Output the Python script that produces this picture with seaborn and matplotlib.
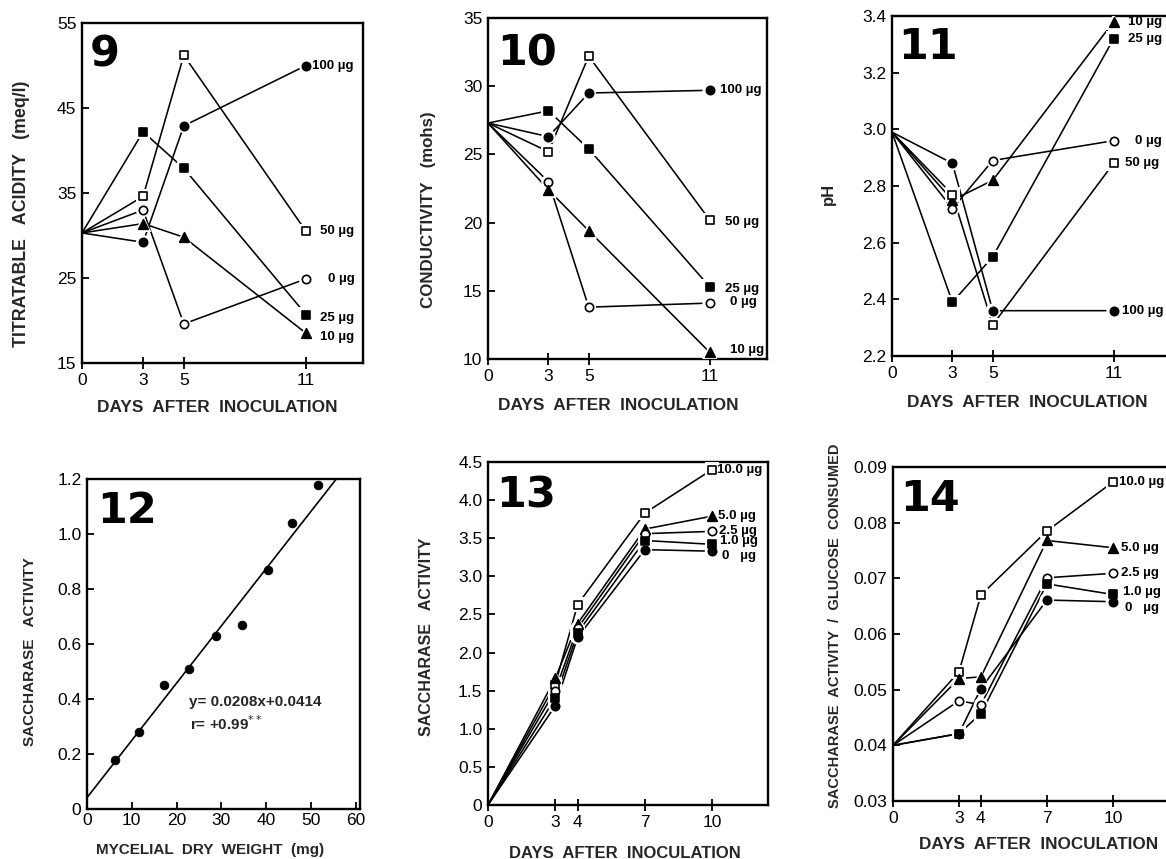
import matplotlib
matplotlib.use("Agg")
import matplotlib.pyplot as plt
import seaborn as sns
import pandas as pd

sns.set_theme(style="white")
plt.rcParams["font.family"] = ["Liberation Sans", "DejaVu Sans"]

# ---------------- data ----------------
days_a = [0, 3, 5, 11]
acid_100 = [30.3, 29.2, 42.9, 50.0]
acid_50 = [30.3, 34.6, 51.2, 30.5]
acid_0 = [30.3, 33.0, 19.6, 24.9]
acid_25 = [30.3, 42.2, 37.9, 20.7]
acid_10 = [30.3, 31.4, 29.8, 18.5]

cond_100 = [27.3, 26.3, 29.5, 29.7]
cond_50 = [27.3, 25.2, 32.2, 20.2]
cond_25 = [27.3, 28.2, 25.4, 15.3]
cond_0 = [27.3, 23.0, 13.8, 14.1]
cond_10 = [27.3, 22.4, 19.4, 10.5]

ph_10 = [2.99, 2.75, 2.82, 3.38]
ph_25 = [2.99, 2.39, 2.55, 3.32]
ph_0 = [2.99, 2.72, 2.89, 2.96]
ph_50 = [2.99, 2.77, 2.31, 2.88]
ph_100 = [2.99, 2.88, 2.36, 2.36]

dry_weight = [6.2, 11.6, 17.2, 22.9, 28.8, 34.7, 40.4, 45.9, 51.7]
activity_w = [0.18, 0.28, 0.45, 0.51, 0.63, 0.67, 0.87, 1.04, 1.18]
slope, intercept = 0.0208, 0.0414

days_b = [0, 3, 4, 7, 10]
sa_10 = [0.0, 1.58, 2.63, 3.83, 4.40]
sa_5 = [0.0, 1.66, 2.38, 3.62, 3.79]
sa_25 = [0.0, 1.50, 2.32, 3.56, 3.59]
sa_1 = [0.0, 1.40, 2.26, 3.47, 3.42]
sa_0 = [0.0, 1.30, 2.20, 3.35, 3.33]

sg_10 = [0.040, 0.0532, 0.0670, 0.0785, 0.0873]
sg_5 = [0.040, 0.0520, 0.0523, 0.0768, 0.0755]
sg_25 = [0.040, 0.0480, 0.0473, 0.0701, 0.0709]
sg_1 = [0.040, 0.0421, 0.0457, 0.0690, 0.0671]
sg_0 = [0.040, 0.0421, 0.0502, 0.0661, 0.0658]

lab_a = ["100 µg", "50 µg", "0 µg", "25 µg", "10 µg"]
lab_b = ["10.0 µg", "5.0 µg", "2.5 µg", "1.0 µg", "0   µg"]

# marker styles: (marker, filled)
ST = {"fc": ("o", True), "oc": ("o", False), "os": ("s", False),
      "fs": ("s", True), "ft": ("^", True)}

W, H = 1166, 859
fig = plt.figure(figsize=(W / 100, H / 100), dpi=100)


def add_ax(l, r, t, b):
    return fig.add_axes([l / W, 1 - b / H, (r - l) / W, (b - t) / H])


def style_ax(ax, xlim, ylim, xt, xtl, yt, ytl):
    ax.set_xlim(*xlim)
    ax.set_ylim(*ylim)
    ax.set_xticks(xt)
    ax.set_xticklabels(xtl)
    ax.set_yticks(yt)
    ax.set_yticklabels(ytl)
    for s in ax.spines.values():
        s.set_color("black")
        s.set_linewidth(1.7)
    ax.tick_params(axis="x", direction="inout", length=9, width=1.3,
                   bottom=True, labelsize=12.5, pad=3, colors="black")
    ax.tick_params(axis="y", direction="in", length=5, width=1.3,
                   left=True, labelsize=12.5, pad=4, colors="black")
    ax.set_xlabel("")
    ax.set_ylabel("")


def series(ax, x, y, key, label=None, dx=6, dy=0, fs=9.5):
    m, filled = ST[key]
    sns.lineplot(x=x, y=y, ax=ax, color="black", lw=1.15, zorder=2,
                 estimator=None, sort=False)
    s = 48 if m == "^" else 36
    sns.scatterplot(x=x[1:], y=y[1:], ax=ax, marker=m, s=s * 3.0,
                    color="white", edgecolor="none", zorder=3)
    sns.scatterplot(x=x[1:], y=y[1:], ax=ax, marker=m, s=s,
                    color="black" if filled else "white",
                    edgecolor="black", linewidth=1.2, zorder=4)
    if label:
        ax.annotate(label, xy=(x[-1], y[-1]), xytext=(dx, dy),
                    textcoords="offset pixels", ha="left", va="center",
                    fontsize=fs, fontweight="bold", color="black")


def num(ax, t, dx, dy):
    ax.annotate(t, xy=(0, 1), xycoords="axes fraction", xytext=(dx, -dy),
                textcoords="offset pixels", ha="left", va="top",
                fontsize=31, fontweight="heavy", color="black",
                family=["DejaVu Sans"])


def labels(ax, xl, xp, yl, yp, xfs=12.4, yfs=11):
    ax.text(xp[0], xp[1], xl, transform=ax.transAxes, ha="center",
            va="center", fontsize=xfs, fontweight="bold")
    ax.text(yp[0], yp[1], yl, transform=ax.transAxes, ha="center",
            va="center", rotation=90, fontsize=yfs, fontweight="bold")


# ---------- Fig 9 ----------
ax9 = add_ax(82, 363, 23, 363)
series(ax9, days_a, acid_100, "fc", lab_a[0], 6, 0)
series(ax9, days_a, acid_50, "os", lab_a[1], 14, 0)
series(ax9, days_a, acid_0, "oc", lab_a[2], 22, 0)
series(ax9, days_a, acid_25, "fs", lab_a[3], 14, -3)
series(ax9, days_a, acid_10, "ft", lab_a[4], 14, -4)
style_ax(ax9, (0, 13.8), (15, 55), days_a, ["0", "3", "5", "11"],
         [15, 25, 35, 45, 55], ["15", "25", "35", "45", "55"])
num(ax9, "9", 8, 10)
labels(ax9, "DAYS  AFTER  INOCULATION", (0.48, -0.13),
       "TITRATABLE   ACIDITY   (meq/l)", (-0.215, 0.44), yfs=12.8)

# ---------- Fig 10 ----------
ax10 = add_ax(488, 767, 18, 359)
series(ax10, days_a, cond_100, "fc", lab_a[0], 10, 0)
series(ax10, days_a, cond_50, "os", lab_a[1], 15, -2)
series(ax10, days_a, cond_25, "fs", lab_a[3], 15, -2)
series(ax10, days_a, cond_0, "oc", lab_a[2], 20, 1)
series(ax10, days_a, cond_10, "ft", lab_a[4], 20, 2)
style_ax(ax10, (0, 13.85), (10, 35), days_a, ["0", "3", "5", "11"],
         [10, 15, 20, 25, 30, 35], ["10", "15", "20", "25", "30", "35"])
num(ax10, "10", 9, 14)
labels(ax10, "DAYS  AFTER  INOCULATION", (0.466, -0.135),
       "CONDUCTIVITY   (mohs)", (-0.215, 0.437), yfs=12.2)

# ---------- Fig 11 ----------
ax11 = add_ax(892, 1170, 16, 356)
series(ax11, days_a, ph_10, "ft", lab_a[4], 14, 0)
series(ax11, days_a, ph_25, "fs", lab_a[3], 14, 0)
series(ax11, days_a, ph_0, "oc", lab_a[2], 21, 0)
series(ax11, days_a, ph_50, "os", lab_a[1], 11, 0)
series(ax11, days_a, ph_100, "fc", lab_a[0], 8, 0)
style_ax(ax11, (0, 13.8), (2.2, 3.4), days_a, ["0", "3", "5", "11"],
         [2.2, 2.4, 2.6, 2.8, 3.0, 3.2, 3.4],
         ["2.2", "2.4", "2.6", "2.8", "3.0", "3.2", "3.4"])
num(ax11, "11", 6, 10)
labels(ax11, "DAYS  AFTER  INOCULATION", (0.486, -0.138),
       "pH", (-0.23, 0.476), yfs=12)

# ---------- Fig 12 ----------
ax12 = add_ax(87, 360, 479, 809)
line_x = [0, 60]
line_y = [intercept + slope * v for v in line_x]
sns.lineplot(x=line_x, y=line_y, ax=ax12, color="black", lw=1.2,
             estimator=None, zorder=2)
sns.scatterplot(x=dry_weight, y=activity_w, ax=ax12, marker="o", s=40,
                color="black", edgecolor="black", zorder=4)
style_ax(ax12, (0, 61), (0, 1.2), [0, 10, 20, 30, 40, 50, 60],
         ["0", "10", "20", "30", "40", "50", "60"],
         [0, 0.2, 0.4, 0.6, 0.8, 1.0, 1.2],
         ["0", "0.2", "0.4", "0.6", "0.8", "1.0", "1.2"])
ax12.tick_params(axis="x", direction="in", length=5)
num(ax12, "12", 10, 11)
ax12.text(22.8, 0.39, "y= 0.0208x+0.0414", fontsize=11, fontweight="bold",
          va="center", ha="left")
ax12.text(23.0, 0.31, r"r= +0.99$^{**}$", fontsize=11, fontweight="bold",
          va="center", ha="left")
labels(ax12, "MYCELIAL  DRY  WEIGHT  (mg)", (0.45, -0.124),
       "SACCHARASE   ACTIVITY", (-0.21, 0.476), xfs=11, yfs=11)

# ---------- Fig 13 ----------
ax13 = add_ax(488, 768, 462, 805)
series(ax13, days_b, sa_10, "os", lab_b[0], 5, 0)
series(ax13, days_b, sa_5, "ft", lab_b[1], 6, 0)
series(ax13, days_b, sa_25, "oc", lab_b[2], 7, 0)
series(ax13, days_b, sa_1, "fs", lab_b[3], 8, 3)
series(ax13, days_b, sa_0, "fc", lab_b[4], 10, -5)
style_ax(ax13, (0, 12.5), (0, 4.5), days_b, ["0", "3", "4", "7", "10"],
         [0, 0.5, 1, 1.5, 2, 2.5, 3, 3.5, 4, 4.5],
         ["0", "0.5", "1.0", "1.5", "2.0", "2.5", "3.0", "3.5", "4.0", "4.5"])
num(ax13, "13", 8, 12)
labels(ax13, "DAYS  AFTER  INOCULATION", (0.49, -0.14),
       "SACCHARASE   ACTIVITY", (-0.218, 0.49), xfs=12, yfs=11.5)

# ---------- Fig 14 ----------
ax14 = add_ax(893, 1170, 467, 801)
series(ax14, days_b, sg_10, "os", lab_b[0], 6, 0)
series(ax14, days_b, sg_5, "ft", lab_b[1], 8, 0)
series(ax14, days_b, sg_25, "oc", lab_b[2], 8, 0)
series(ax14, days_b, sg_1, "fs", lab_b[3], 10, 2)
series(ax14, days_b, sg_0, "fc", lab_b[4], 12, -6)
style_ax(ax14, (0, 12.6), (0.03, 0.09), days_b, ["0", "3", "4", "7", "10"],
         [0.03, 0.04, 0.05, 0.06, 0.07, 0.08, 0.09],
         ["0.03", "0.04", "0.05", "0.06", "0.07", "0.08", "0.09"])
num(ax14, "14", 7, 11)
labels(ax14, "DAYS  AFTER  INOCULATION", (0.527, -0.13),
       "SACCHARASE  ACTIVITY  /  GLUCOSE  CONSUMED", (-0.21, 0.524),
       xfs=12.3, yfs=10.5)

fig.savefig("out.png", dpi=100, facecolor="white")
